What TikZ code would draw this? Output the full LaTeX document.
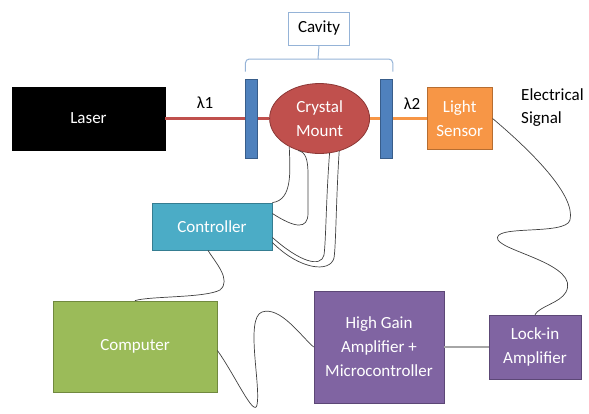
\documentclass[tikz,border=0pt]{standalone}
\usepackage{fontspec}
\setmainfont{Carlito}
\usepackage{xcolor}
\usepackage{tikz}
\usetikzlibrary{positioning,shapes.geometric}

\definecolor{mirrorfill}{HTML}{4F81BD}
\definecolor{mirrorline}{HTML}{385D8A}
\definecolor{redfill}{HTML}{C0504D}
\definecolor{redline}{HTML}{8C3836}
\definecolor{orangefill}{HTML}{F79646}
\definecolor{orangeline}{HTML}{B66D31}
\definecolor{tealfill}{HTML}{4BACC6}
\definecolor{tealline}{HTML}{357D91}
\definecolor{greenfill}{HTML}{9BBB59}
\definecolor{greenline}{HTML}{71893F}
\definecolor{purplefill}{HTML}{8064A2}
\definecolor{purpleline}{HTML}{5C4776}
\definecolor{bracket}{HTML}{95B3D7}
\definecolor{wire}{HTML}{404040}

\begin{document}
\begin{tikzpicture}[
  x=1pt, y=-1pt,
  blk/.style={draw, line width=0.8pt, align=center, text=white, inner sep=0pt,
              font=\fontsize{17}{24}\selectfont},
  mirror/.style={draw=mirrorline, fill=mirrorfill, line width=0.8pt,
                 minimum width=12pt, minimum height=79pt, inner sep=0pt},
  lbl/.style={font=\fontsize{17}{23}\selectfont, inner sep=0pt},
  beam/.style={line width=2.6pt},
  cable/.style={draw=wire, line width=0.7pt},
  brace/.style={draw=bracket, line width=1pt, rounded corners=4pt}
]
  \useasboundingbox (0,0) rectangle (589,413);

  % --- optical path
  \node[blk, fill=black, draw=black, minimum width=153pt, minimum height=63pt]
        (laser) at (88.5,118.5) {Laser};
  \node[mirror] (m1) [right=80pt of laser] {};
  \node[blk, ellipse, draw=redline, fill=redfill, minimum width=100pt,
        minimum height=70pt] (crystal) [right=11pt of m1] {Crystal\\Mount};
  \node[mirror] (m2) [right=10pt of crystal] {};
  \node[blk, draw=orangeline, fill=orangefill, minimum width=65pt,
        minimum height=62pt] (sensor) [right=34pt of m2] {Light\\Sensor};

  \draw[beam, redfill] (laser) -- (m1);
  \draw[beam, redfill] (m1) -- (crystal);
  \draw[beam, orangefill] (crystal) -- (m2);
  \draw[beam, orangefill] (m2) -- (sensor);

  \node[lbl] (l1) at (205,103) {λ1};
  \node[lbl] (l2) at (412,104) {λ2};
  \node[lbl, align=left, anchor=west] (sig) at (521,108) {Electrical\\Signal};

  % --- cavity bracket
  \node[lbl, draw=bracket, fill=white, line width=1pt, minimum width=61pt,
        minimum height=33pt] (cav) at (319,28.5) {Cavity};
  \coordinate (bmid) at (318,59);
  \draw[brace] ([yshift=7pt]m1.north west) |- (bmid) -| ([yshift=7pt]m2.north east);
  \draw[draw=bracket, line width=1pt] (bmid) -- (cav.south);

  % --- electronics
  \node[blk, draw=tealline, fill=tealfill, minimum width=120pt,
        minimum height=47pt] (ctrl) at (212,226.5) {Controller};
  \node[blk, draw=greenline, fill=greenfill, minimum width=164pt,
        minimum height=91pt] (comp) at (135,346.5) {Computer};
  \node[blk, draw=purpleline, fill=purplefill, minimum width=130pt,
        minimum height=112pt] (hga) at (379,347) {High Gain\\Amplifier +\\Microcontroller};
  \node[blk, draw=purpleline, fill=purplefill, minimum width=92pt,
        minimum height=64pt] (lock) at (535,347) {Lock-in\\Amplifier};

  \draw[draw=black!35, line width=1.4pt] (hga) -- (lock);

  % --- cables from the crystal mount to the controller
  \draw[cable] (crystal.223) .. controls (290,170) and (293,200) .. (ctrl.north east);
  \draw[cable] (crystal.236) .. controls (306,152) and (308,160) .. (308,175)
        -- (308,213) .. controls (308,230) and (295,228) .. ([yshift=13pt]ctrl.east);
  \draw[cable] (crystal.286) .. controls (326,200) and (326,240) .. (324,255)
        .. controls (321,268) and (300,262) .. ([yshift=-11pt]ctrl.east);
  \draw[cable] (crystal.301) .. controls (336,200) and (336,245) .. (334,258)
        .. controls (330,273) and (300,270) .. ([yshift=-16pt]ctrl.east);

  % --- remaining cables
  \draw[cable] ([xshift=-4pt]ctrl.south) .. controls (215,262) and (232,280) .. (220,290)
        .. controls (205,298) and (150,296) .. (comp.north);
  \draw[cable] ([yshift=-4pt]comp.east) .. controls (235,375) and (254,418) .. (257,405)
        .. controls (261,385) and (245,318) .. (262,312)
        .. controls (280,306) and (300,335) .. (hga.west);
  \draw[cable] (sensor.east) .. controls (530,150) and (576,195) .. (570,220)
        .. controls (566,236) and (490,224) .. (498,240)
        .. controls (505,252) and (580,265) .. (566,292)
        .. controls (560,303) and (540,306) .. (lock.north);
\end{tikzpicture}
\end{document}
